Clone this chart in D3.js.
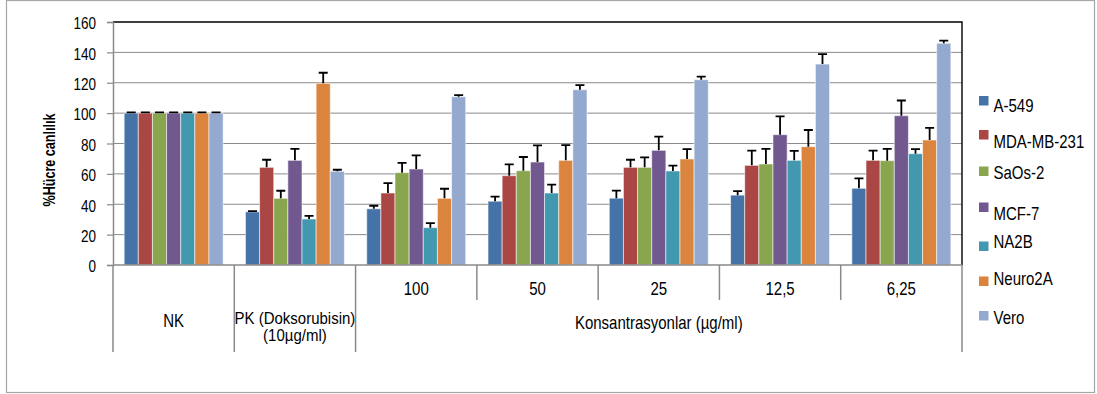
<!DOCTYPE html>
<html><head><meta charset="utf-8">
<script src="https://cdn.jsdelivr.net/npm/d3@7"></script>
<style>body{margin:0;background:#fff}svg{display:block}text{font-family:"Liberation Sans",Arial,sans-serif;fill:#000}</style>
</head><body>
<svg id="c" width="1097" height="394"></svg>
<script>
const categories = ["NK","PK","100","50","25","12,5","6,25"];
const groupLabel = "Konsantrasyonlar (µg/ml)";
const pkLabel = ["PK (Doksorubisin)","(10µg/ml)"];
const seriesNames = ["A-549","MDA-MB-231","SaOs-2","MCF-7","NA2B","Neuro2A","Vero"];
const seriesColors = ["#4572A7","#AA4643","#89A54E","#71588F","#4198AF","#DB843D","#93A9CF"];
const valA549   = [100, 35.0, 37.0, 42.0, 44.0, 46.0, 50.5];
const valMDA    = [100, 64.3, 47.4, 58.8, 64.3, 65.6, 68.9];
const valSaOs   = [100, 43.9, 60.8, 62.1, 64.3, 66.5, 68.7];
const valMCF7   = [100, 68.9, 63.2, 67.8, 75.5, 85.8, 98.3];
const valNA2B   = [100, 30.3, 24.6, 47.4, 61.9, 68.9, 73.3];
const valNeuro  = [100, 119.6, 43.9, 68.9, 69.8, 77.9, 82.3];
const valVero   = [100, 61.7, 110.8, 115.4, 122.0, 132.3, 146.0];
const errA549   = [0.5, 0.5, 2.0, 3.0, 5.0, 2.7, 6.6];
const errMDA    = [0.5, 5.0, 6.5, 7.5, 5.0, 9.7, 6.4];
const errSaOs   = [0.5, 5.0, 6.5, 9.0, 6.5, 10.0, 7.7];
const errMCF7   = [0.5, 7.5, 9.0, 11.0, 9.0, 12.0, 10.0];
const errNA2B   = [0.5, 2.0, 3.0, 5.5, 3.5, 6.3, 3.0];
const errNeuro  = [0.5, 7.0, 6.3, 10.0, 6.5, 11.0, 8.0];
const errVero   = [0.5, 1.0, 1.0, 3.0, 2.0, 6.6, 1.7];
const yTicks = [0,20,40,60,80,100,120,140,160];
const yTitle = "%Hücre canlılık";

const values = [valA549,valMDA,valSaOs,valMCF7,valNA2B,valNeuro,valVero];
const errors = [errA549,errMDA,errSaOs,errMCF7,errNA2B,errNeuro,errVero];

const svg = d3.select("#c");
const L=113, R=962, T=22, B=265;
const SY = 1.22;

function txt(g, x, y, s, size, anchor, sy){
  return g.append("text").attr("transform",`translate(${x},${y}) scale(1,${sy||SY})`)
    .attr("font-size",size).attr("text-anchor",anchor||"start").text(s);
}

// outer frame
svg.append("rect").attr("x",6.5).attr("y",0.5).attr("width",1088).attr("height",392)
  .attr("fill","none").attr("stroke","#a6a6a6").attr("stroke-width",1.2);

const y = d3.scaleLinear().domain([0,160]).range([B,T]);
const x0 = d3.scaleBand().domain(categories).range([L,R]).paddingInner(0.184).paddingOuter(0.092);
const x1 = d3.scaleBand().domain(seriesNames).range([0,x0.bandwidth()]);

// gridlines
svg.append("g").selectAll("line").data(yTicks.filter(t=>t>0&&t<160)).join("line")
  .attr("x1",L).attr("x2",R).attr("y1",d=>y(d)).attr("y2",d=>y(d))
  .attr("stroke","#8a8a8a").attr("stroke-width",1);
// top and right black border
svg.append("path").attr("d",`M${L},${y(160)}H${R}V${B}`).attr("fill","none").attr("stroke","#000").attr("stroke-width",1.4);

// y axis
const ya = svg.append("g").attr("transform",`translate(${L},0)`).call(d3.axisLeft(y).tickValues(yTicks).tickSize(6).tickFormat(""));
ya.select(".domain").attr("stroke","#8a8a8a").attr("stroke-width",1.5);
ya.selectAll(".tick line").attr("stroke","#8a8a8a").attr("stroke-width",1.2);
yTicks.forEach(t=>txt(svg, 96, y(t)+7.3, String(t), 13.5, "end", 1.25));

// y title
svg.append("text").attr("transform",`translate(55,160) rotate(-90) scale(1,1.25)`)
  .attr("font-size",12.6).attr("font-weight","bold").attr("text-anchor","middle").text(yTitle);

// bars
const groups = svg.append("g").selectAll("g").data(categories).join("g")
  .attr("transform",d=>`translate(${x0(d)},0)`);
groups.each(function(c,ci){
  const g = d3.select(this);
  seriesNames.forEach((s,si)=>{
    const v = values[si][ci], e = errors[si][ci];
    const bx = x1(s), bw = x1.bandwidth();
    g.append("rect").attr("x",bx).attr("y",y(v)).attr("width",bw).attr("height",y(0)-y(v))
      .attr("fill",seriesColors[si]).attr("stroke","#ffffff").attr("stroke-opacity",0.55).attr("stroke-width",1);
    const cx = bx+bw/2;
    g.append("path").attr("d",`M${cx},${y(v)}V${y(v+e)}M${cx-4.5},${y(v+e)}H${cx+4.5}`)
      .attr("stroke","#000").attr("stroke-width",1.8).attr("fill","none");
  });
});

// x axis baseline and dividers
svg.append("line").attr("x1",L).attr("x2",R).attr("y1",B).attr("y2",B).attr("stroke","#8a8a8a").attr("stroke-width",1.5);
const step = x0.step();
const edges = d3.range(categories.length+1).map(i=>L+i*step);
edges.forEach((ex,i)=>{
  const long = (i<=2 || i===categories.length);
  svg.append("line").attr("x1",ex).attr("x2",ex).attr("y1",B).attr("y2",long?352:300)
    .attr("stroke","#8a8a8a").attr("stroke-width",1.5);
});
// category labels
categories.forEach((c,i)=>{
  const cx = L+(i+0.5)*step;
  if(i===0) txt(svg,cx,327,c,15,"middle");
  else if(i===1){ txt(svg,cx,323.5,pkLabel[0],15,"middle",1.15); txt(svg,cx,341,pkLabel[1],15,"middle",1.15); }
  else txt(svg,cx,295,c,15,"middle");
});
txt(svg,(edges[2]+edges[7])/2,329,groupLabel,15,"middle");

// legend
const legSq = [96,130,166.5,202.5,241.5,276.5,311];
const legTx = [112,148.3,179.3,220,248.3,285,324];
seriesNames.forEach((s,i)=>{
  svg.append("rect").attr("x",979).attr("y",legSq[i]).attr("width",9.5).attr("height",9.5).attr("fill",seriesColors[i]);
  txt(svg,993.5,legTx[i],s,15,"start");
});
</script>
</body></html>
